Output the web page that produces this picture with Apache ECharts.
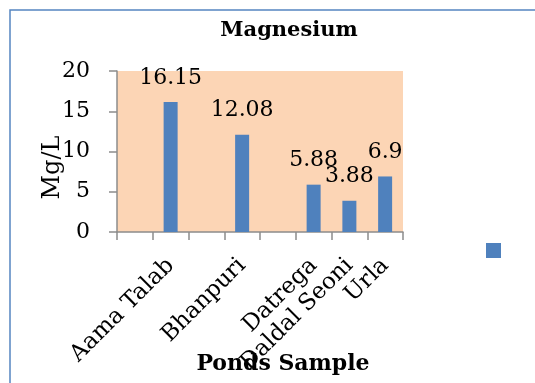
<!DOCTYPE html>
<html>
<head>
<meta charset="utf-8">
<script src="https://cdn.jsdelivr.net/npm/echarts@6/dist/echarts.min.js"></script>
<style>
  html, body { margin: 0; padding: 0; background: #fff; }
  #chart { width: 535px; height: 383px; }
</style>
</head>
<body>
<div id="chart"></div>
<script>
// ponds along the x axis; empty slots are gaps in the original category axis
var categories = ['', 'Aama Talab', '', 'Bhanpuri', '', 'Datrega', 'Daldal Seoni', 'Urla'];
var magnesium = [null, 16.15, null, 12.08, null, 5.88, 3.88, 6.9];
var yTicks = [0, 5, 10, 15, 20];

var serif = 'DejaVu Serif';
var chart = echarts.init(document.getElementById('chart'));

var option = {
    animation: false,
    backgroundColor: '#fff',
    graphic: [{
        type: 'rect',
        shape: { x: 10, y: 10, width: 540, height: 390 },
        style: { fill: 'none', stroke: '#5585c1', lineWidth: 1.5 },
        silent: true
    }],
    title: [{
        text: 'Magnesium',
        left: 289,
        top: 20,
        textAlign: 'center',
        padding: 0,
        textStyle: { fontFamily: serif, fontWeight: 'bold', fontSize: 21, color: '#000' }
    }, {
        text: 'Ponds Sample',
        left: 283,
        top: 353,
        textAlign: 'center',
        padding: 0,
        textStyle: { fontFamily: serif, fontWeight: 'bold', fontSize: 22, color: '#000' }
    }],
    legend: {
        left: 486,
        top: 243,
        padding: 0,
        icon: 'rect',
        itemWidth: 15,
        itemHeight: 15,
        formatter: function() { return ''; },
        data: ['Mg']
    },
    grid: {
        left: 117,
        right: 132,
        top: 71,
        bottom: 151,
        show: true,
        backgroundColor: '#fcd5b5',
        borderWidth: 0
    },
    xAxis: {
        type: 'category',
        data: categories,
        axisLine: { lineStyle: { color: '#8c8c8c', width: 1.5 } },
        axisTick: { show: true, interval: 0, length: 8, lineStyle: { color: '#8c8c8c', width: 1.5 } },
        axisLabel: {
            interval: 0,
            rotate: 45,
            margin: 30,
            fontFamily: serif,
            fontSize: 23,
            color: '#000'
        }
    },
    yAxis: {
        type: 'value',
        min: yTicks[0],
        max: yTicks[yTicks.length - 1],
        interval: 5,
        name: 'Mg/L',
        nameLocation: 'middle',
        nameRotate: 90,
        nameGap: 52,
        nameMoveOverlap: false,
        nameTextStyle: { fontFamily: serif, fontSize: 24, color: '#000', padding: [0, 32, 0, 0] },
        axisLine: { show: true, lineStyle: { color: '#8c8c8c', width: 1.5 } },
        axisTick: { show: true, length: 8, lineStyle: { color: '#8c8c8c', width: 1.5 } },
        splitLine: { show: false },
        axisLabel: {
            margin: 27,
            fontFamily: serif,
            fontSize: 22,
            color: '#000'
        }
    },
    series: [{
        name: 'Mg',
        type: 'bar',
        data: magnesium,
        barWidth: 14,
        itemStyle: { color: '#4f81bd' },
        label: {
            show: true,
            position: 'top',
            distance: 13,
            fontFamily: serif,
            fontSize: 22,
            color: '#000'
        }
    }]
};

chart.setOption(option);
</script>
</body>
</html>
